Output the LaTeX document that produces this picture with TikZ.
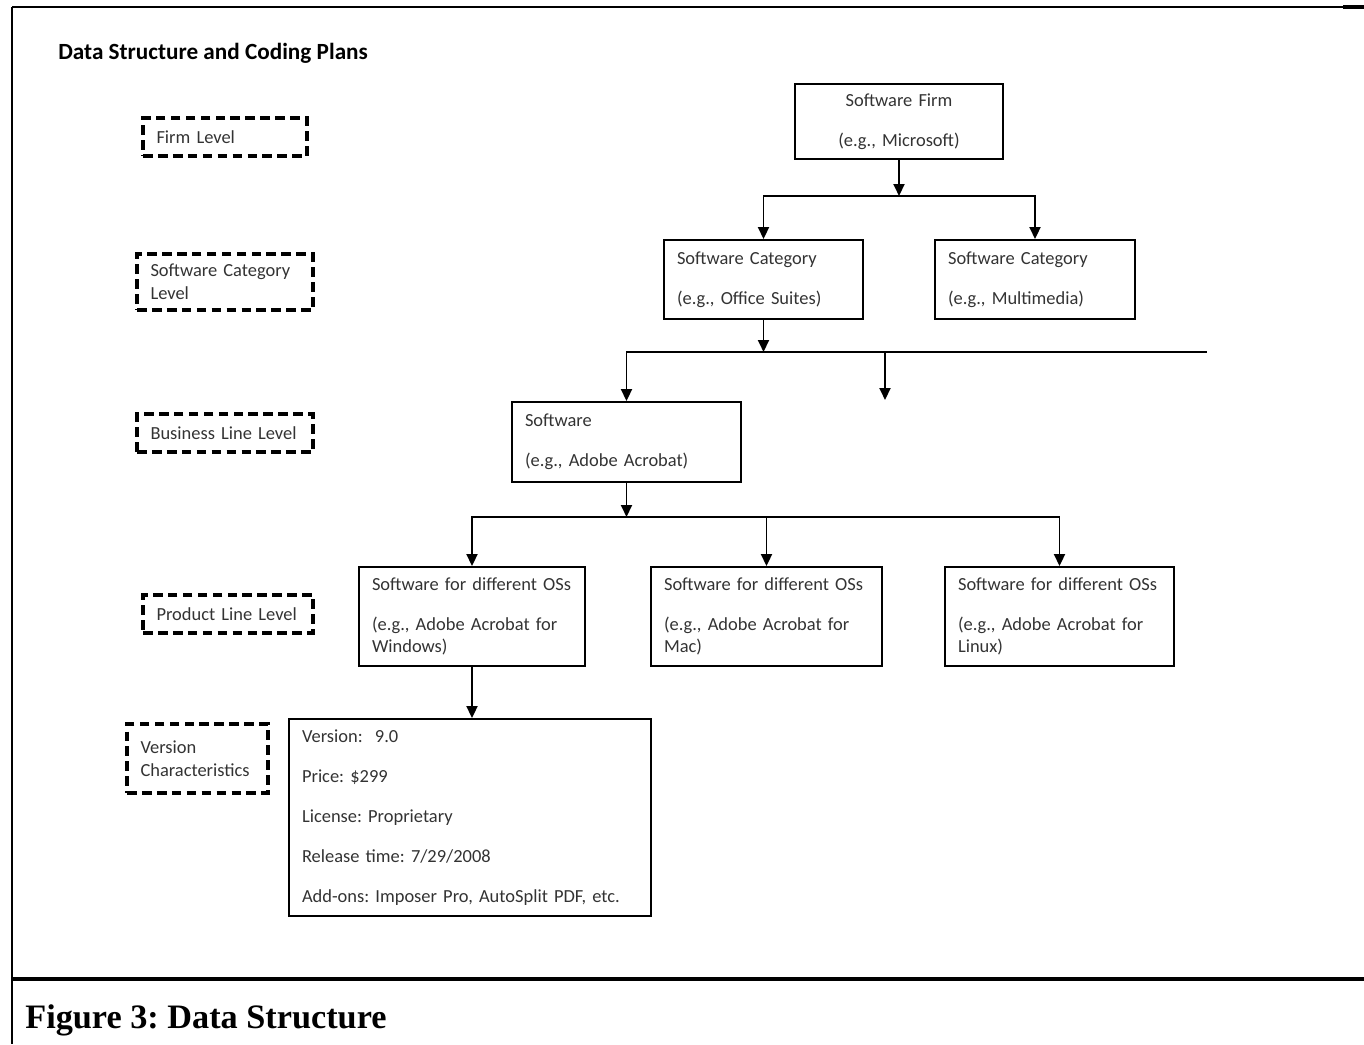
\documentclass[tikz,border=0pt]{standalone}
\usepackage{fontspec}
\setmainfont{Carlito}
\newfontfamily\captionfont{Liberation Serif}
\usetikzlibrary{arrows.meta}
\frenchspacing

\begin{document}
\begin{tikzpicture}[x=0.02cm, y=-0.02cm,
		font=\fontsize{10.5}{13}\selectfont,
		box_style/.style={draw=black, line width=1.1pt, inner xsep=0.26cm, inner ysep=0pt, align=left, text=black!80},
		level_style/.style={draw=black, line width=2pt, dash pattern=on 5.5pt off 3pt, inner xsep=0.27cm, inner ysep=0pt, align=left, text=black!80},
		edge_style/.style={draw=black, line width=1.1pt},
		arrow_style/.style={edge_style, -{Triangle[length=0.24cm, width=0.22cm]}}]

		\useasboundingbox (0,0) rectangle (1364,1044);

		% frame and caption
		\draw[line width=0.6pt] (12,7) -- (1343,7);
		\draw[line width=1.8pt] (1343,7) -- (1364,7);
		\draw[line width=1.2pt] (12,7) -- (12,1044);
		\draw[line width=1.8pt] (12,979) -- (1364,979);
		\node[anchor=base west, inner sep=0pt, font=\captionfont\fontsize{19.5}{22}\bfseries\selectfont] (caption) at (25,1028) {Figure 3: Data Structure};
		\node[anchor=base west, inner sep=0pt, font=\fontsize{13.2}{16}\bfseries\selectfont] (title) at (58,60) {Data Structure and Coding Plans};

		% levels
		\node[level_style, text width=2.74cm, minimum height=0.76cm] (lvl1) at (225,137) {Firm Level};
		\node[level_style, text width=2.98cm, minimum height=1.12cm] (lvl2) at (225,282) {Software Category\\Level};
		\node[level_style, text width=2.98cm, minimum height=0.76cm] (lvl3) at (225,433) {Business Line Level};
		\node[level_style, text width=2.86cm, minimum height=0.76cm] (lvl4) at (228,614) {Product Line Level};
		\node[level_style, text width=2.28cm, minimum height=1.38cm] (lvl5) at (197.5,758.5) {Version\\Characteristics};

		% boxes
		\node[box_style, align=center, text width=3.64cm, minimum height=1.5cm] (firm) at (899,121.5) {Software Firm\\[9.7pt](e.g., Microsoft)};
		\node[box_style, text width=3.46cm, minimum height=1.58cm] (cat1) at (763.5,279.5) {Software Category\\[9.7pt](e.g., Office Suites)};
		\node[box_style, text width=3.48cm, minimum height=1.58cm] (cat2) at (1035,279.5) {Software Category\\[9.7pt](e.g., Multimedia)};
		\node[box_style, text width=4.06cm, minimum height=1.6cm] (soft) at (626.5,442) {Software\\[9.7pt](e.g., Adobe Acrobat)};
		\node[box_style, text width=4.0cm, minimum height=1.98cm] (os1) at (472,616.5) {Software for different OSs\\[9.7pt](e.g., Adobe Acrobat for\\Windows)};
		\node[box_style, text width=4.1cm, minimum height=1.98cm] (os2) at (766.5,616.5) {Software for different OSs\\[9.7pt](e.g., Adobe Acrobat for\\Mac)};
		\node[box_style, text width=4.06cm, minimum height=1.98cm] (os3) at (1059.5,616.5) {Software for different OSs\\[9.7pt](e.g., Adobe Acrobat for\\Linux)};
		\node[box_style, text width=6.72cm, minimum height=3.94cm] (ver) at (470,817.5) {Version:\ \ 9.0\\[9.7pt]Price: \$299\\[9.7pt]License: Proprietary\\[9.7pt]Release time: 7/29/2008\\[9.7pt]Add-ons: Imposer Pro, AutoSplit PDF, etc.};

		% junctions
		\coordinate (j1) at (899,196);
		\coordinate (j2) at (763.5,352);
		\coordinate (j2end) at (1207,352);
		\coordinate (f2) at (885,352);
		\coordinate (f2end) at (885,400);
		\coordinate (j3) at (626.5,517);

		\draw[arrow_style] (firm.south) -- (j1);
		\draw[arrow_style] (j1) -| (cat1.north);
		\draw[arrow_style] (j1) -| (cat2.north);
		\draw[arrow_style] (cat1.south) -- (j2);
		\draw[edge_style] (j2) -- (j2end);
		\draw[arrow_style] (j2) -| (soft.north);
		\draw[arrow_style] (f2) -- (f2end);
		\draw[arrow_style] (soft.south) -- (j3);
		\draw[arrow_style] (j3) -| (os1.north);
		\draw[arrow_style] (j3) -| (os2.north);
		\draw[arrow_style] (j3) -| (os3.north);
		\draw[arrow_style] (os1.south) -- (os1.south |- ver.north);
\end{tikzpicture}
\end{document}
